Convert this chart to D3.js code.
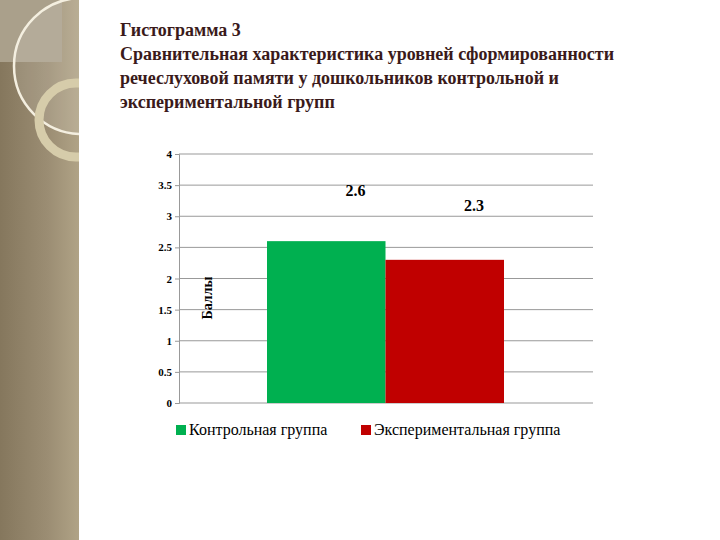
<!DOCTYPE html>
<html><head><meta charset="utf-8">
<script src="https://cdn.jsdelivr.net/npm/d3@7"></script>
<style>body{margin:0;background:#fff}</style></head>
<body><script>
const categories=["Контрольная группа","Экспериментальная группа"];
const values=[2.6,2.3];
const colors=["#00b050","#c00000"];
const yTicks=[0,0.5,1,1.5,2,2.5,3,3.5,4];
const titleLines=["Гистограмма 3","Сравнительная характеристика уровней сформированности","речеслуховой памяти у дошкольников контрольной и","экспериментальной групп"];

const svg=d3.select("body").append("svg").attr("width",720).attr("height",540);
const defs=svg.append("defs");
const g1=defs.append("linearGradient").attr("id","strip").attr("x1",0).attr("x2",1);
g1.append("stop").attr("offset","0").attr("stop-color","#85775d");
g1.append("stop").attr("offset","0.6").attr("stop-color","#9b8d73");
g1.append("stop").attr("offset","1").attr("stop-color","#b0a386");
defs.append("clipPath").attr("id","cl").append("rect").attr("width",79).attr("height",540);
const strip=svg.append("g").attr("clip-path","url(#cl)");
strip.append("rect").attr("width",79).attr("height",540).attr("fill","url(#strip)");
strip.append("rect").attr("width",62).attr("height",62).attr("fill","#aaa08b");
strip.append("circle").attr("cx",82).attr("cy",66).attr("r",68).attr("fill","rgba(255,255,255,0.12)").attr("stroke","#f4efe0").attr("stroke-width",2.5);
strip.append("circle").attr("cx",76).attr("cy",120).attr("r",37).attr("fill","none").attr("stroke","#d6ccaa").attr("stroke-width",9);

svg.append("g").selectAll("text").data(titleLines).join("text")
 .attr("x",120).attr("y",(d,i)=>36+i*24).text(d=>d)
 .attr("font-family","Liberation Serif").attr("font-weight","bold").attr("font-size",18).attr("fill","#3a1a1a");

const x0=179,x1=593;
const y=d3.scaleLinear().domain([0,4]).range([403,154]);
const x=d3.scaleBand().domain(categories).range([267,504]);

svg.append("g").selectAll("line").data(yTicks).join("line")
 .attr("x1",x0).attr("x2",x1).attr("y1",d=>y(d)).attr("y2",d=>y(d)).attr("stroke","#999").attr("stroke-width",1);
const ax=svg.append("g").attr("transform",`translate(${x0},0)`).call(d3.axisLeft(y).tickValues(yTicks).tickSize(4).tickFormat(d3.format("")));
ax.select(".domain").attr("stroke","#999");
ax.selectAll("line").attr("stroke","#999");
ax.selectAll("text").attr("font-family","Liberation Serif").attr("font-weight","bold").attr("font-size",11).attr("fill","#000");

svg.append("g").selectAll("rect").data(values).join("rect")
 .attr("x",(d,i)=>x(categories[i])).attr("width",x.bandwidth())
 .attr("y",d=>y(d)).attr("height",d=>y(0)-y(d)).attr("fill",(d,i)=>colors[i]);
const labY=[190,205];
svg.append("g").selectAll("text").data(values).join("text")
 .attr("x",(d,i)=>x(categories[i])+x.bandwidth()-30).attr("y",(d,i)=>labY[i]+6)
 .attr("text-anchor","middle").text(d=>d)
 .attr("font-family","Liberation Serif").attr("font-weight","bold").attr("font-size",16);

svg.append("text").attr("transform","translate(212,298) rotate(-90)").attr("text-anchor","middle")
 .text("Баллы").attr("font-family","Liberation Serif").attr("font-weight","bold").attr("font-size",14);

const legX=[176,361];
const lg=svg.append("g").selectAll("g").data(categories).join("g").attr("transform",(d,i)=>`translate(${legX[i]},425)`);
lg.append("rect").attr("width",10).attr("height",10).attr("fill",(d,i)=>colors[i]);
lg.append("text").attr("x",13).attr("y",10).text(d=>d).attr("font-family","Liberation Serif").attr("font-size",16).attr("fill","#000");
</script></body></html>
